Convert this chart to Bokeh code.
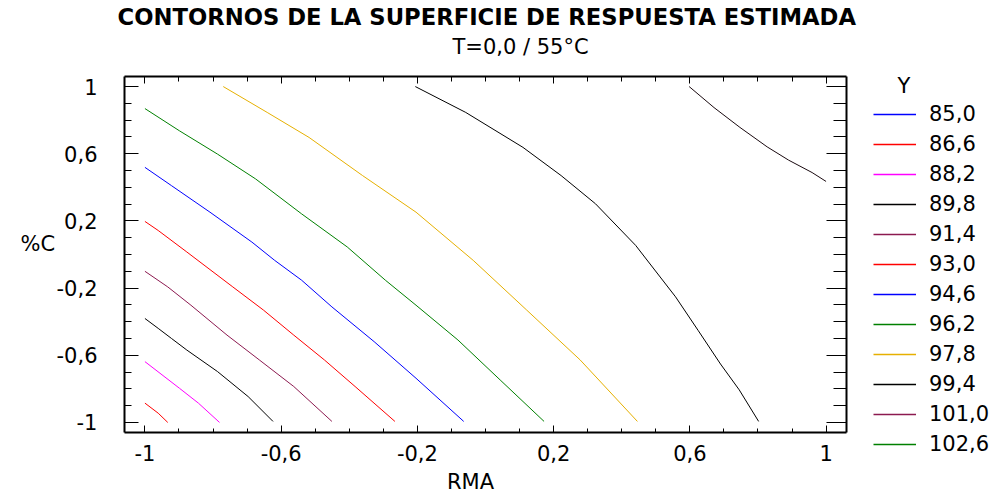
from bokeh.plotting import figure
from bokeh.models import (LinearAxis, FixedTicker, CustomJSTickFormatter,
                          Legend, LegendItem, Range1d, Label)
from bokeh.embed import file_html
from bokeh.resources import INLINE

# ---------------- data ----------------
level_labels = ["85,0", "86,6", "88,2", "89,8", "91,4", "93,0",
                "94,6", "96,2", "97,8", "99,4", "101,0", "102,6"]
legend_colors = ["#0000FF", "#FF0000", "#FF00FF", "#000000", "#8C1A50", "#FF0000",
                 "#0000FF", "#008000", "#E6B000", "#000000", "#8C1A50", "#008000"]
line_colors = ["#0000FF", "#FF0000", "#FF00FF", "#000000", "#8C1A50", "#FF0000",
               "#0000FF", "#008000", "#E6B000", "#000000", "#1A0A10", "#008000"]

NAN = float("nan")
c85_0_x = [NAN, NAN]          # level not present in the plotted region
c85_0_y = [NAN, NAN]
c86_6_x = [-1.0, -0.961, -0.933]
c86_6_y = [-0.885, -0.945, -1.0]
c88_2_x = [-1.0, -0.899, -0.843, -0.781]
c88_2_y = [-0.638, -0.796, -0.885, -1.0]
c89_8_x = [-1.0, -0.961, -0.922, -0.877, -0.787, -0.697, -0.624]
c89_8_y = [-0.381, -0.440, -0.500, -0.569, -0.697, -0.846, -0.994]
c91_4_x = [-1.0, -0.933, -0.865, -0.759, -0.664, -0.563, -0.451]
c91_4_y = [-0.100, -0.193, -0.302, -0.480, -0.628, -0.786, -0.994]
c93_0_x = [-1.0, -0.961, -0.877, -0.742, -0.652, -0.563, -0.473, -0.383, -0.266]
c93_0_y = [0.197, 0.143, 0.015, -0.193, -0.331, -0.480, -0.628, -0.786, -0.994]
c94_6_x = [-1.0, -0.922, -0.809, -0.686, -0.619, -0.540, -0.451, -0.327, -0.204, -0.064]
c94_6_y = [0.519, 0.410, 0.252, 0.074, -0.035, -0.153, -0.312, -0.519, -0.737, -0.994]
c96_2_x = [-1.0, -0.899, -0.787, -0.675, -0.540, -0.406, -0.294, -0.204, -0.081, 0.043, 0.172]
c96_2_y = [0.869, 0.737, 0.598, 0.450, 0.242, 0.045, -0.153, -0.302, -0.509, -0.747, -0.994]
c97_8_x = [-0.770, -0.641, -0.518, -0.361, -0.204, -0.036, 0.121, 0.278, 0.446]
c97_8_y = [1.0, 0.846, 0.697, 0.470, 0.252, -0.035, -0.331, -0.628, -0.994]
c99_4_x = [-0.206, -0.058, 0.110, 0.222, 0.323, 0.441, 0.558, 0.625, 0.690, 0.745, 0.802]
c99_4_y = [1.0, 0.846, 0.638, 0.470, 0.302, 0.054, -0.252, -0.454, -0.652, -0.806, -0.994]
c101_0_x = [0.598, 0.671, 0.747, 0.827, 0.890, 0.959, 1.0]
c101_0_y = [1.0, 0.875, 0.757, 0.641, 0.562, 0.488, 0.435]
c102_6_x = [NAN, NAN]         # level not present in the plotted region
c102_6_y = [NAN, NAN]

contour_x = [c85_0_x, c86_6_x, c88_2_x, c89_8_x, c91_4_x, c93_0_x,
             c94_6_x, c96_2_x, c97_8_x, c99_4_x, c101_0_x, c102_6_x]
contour_y = [c85_0_y, c86_6_y, c88_2_y, c89_8_y, c91_4_y, c93_0_y,
             c94_6_y, c96_2_y, c97_8_y, c99_4_y, c101_0_y, c102_6_y]

major_ticks = [-1, -0.6, -0.2, 0.2, 0.6, 1]
minor_ticks = [round(-1 + 0.1 * i, 1) for i in range(21)]

title_text = "CONTORNOS DE LA SUPERFICIE DE RESPUESTA ESTIMADA"
subtitle_text = "T=0,0 / 55°C"
x_label = "RMA"
y_label = "%C"
legend_title = "Y"

FONT = "DejaVu Sans"

# box of the contour plot, in data units
LO, HI = -1.06, 1.06

# ---------------- figure ----------------
# The frame spans the whole canvas; the plot box is drawn by axes with
# fixed locations and bounds, so every text can sit inside the frame.
W, H = 1002, 501
PX_X = 722 / (HI - LO)       # pixels per x unit
PX_Y = 356 / (HI - LO)       # pixels per y unit
X0 = LO - 124 / PX_X
Y1 = HI + 76 / PX_Y

p = figure(width=W, height=H,
           x_range=Range1d(X0, X0 + W / PX_X), y_range=Range1d(Y1 - H / PX_Y, Y1),
           output_backend="svg", toolbar_location=None,
           min_border_left=0, min_border_right=0,
           min_border_top=0, min_border_bottom=0,
           background_fill_color="white", border_fill_color="white",
           outline_line_color=None)
p.title.visible = False
p.xgrid.visible = False
p.ygrid.visible = False

fmt = CustomJSTickFormatter(code="""
const r = Math.round(tick*10)/10;
if (Math.abs(r - Math.round(r)) < 1e-9) return Math.round(r).toString();
return r.toFixed(1).replace('.', ',');
""")
blank_fmt = CustomJSTickFormatter(code="return '';")


def style_axis(ax, loc, major_in, minor_in, labels=True):
    ax.fixed_location = loc
    ax.ticker = FixedTicker(ticks=major_ticks, minor_ticks=minor_ticks)
    ax.bounds = (LO, HI)
    ax.axis_line_color = "black"
    ax.axis_line_width = 2
    ax.major_tick_in = major_in
    ax.major_tick_out = 0
    ax.minor_tick_in = minor_in
    ax.minor_tick_out = 0
    ax.major_tick_line_color = "black"
    ax.minor_tick_line_color = "black"
    ax.major_tick_line_width = 1
    ax.minor_tick_line_width = 1
    if labels:
        ax.formatter = fmt
        ax.major_label_text_font = FONT
        ax.major_label_text_font_size = "21px"
        ax.major_label_text_color = "black"
    else:
        ax.formatter = blank_fmt
        ax.major_label_standoff = 0


xb = p.xaxis[0]
style_axis(xb, LO, 7, 4)
xb.major_label_standoff = 12

yl = p.yaxis[0]
style_axis(yl, LO, 14, 7)
yl.major_label_standoff = 27

xt = LinearAxis()
style_axis(xt, HI, 7, 5, labels=False)
p.add_layout(xt, "above")
yr = LinearAxis()
style_axis(yr, HI, 20, 13, labels=False)
p.add_layout(yr, "right")

# ---------------- contour lines + legend ----------------
items = []
for lab, lcol, gcol, xs, ys in zip(level_labels, line_colors, legend_colors,
                                   contour_x, contour_y):
    p.line(x=xs, y=ys, line_color=lcol, line_width=1)
    proxy = p.line(x=[NAN, NAN], y=[NAN, NAN], line_color=gcol, line_width=1.5)
    items.append(LegendItem(label=lab, renderers=[proxy]))

legend = Legend(items=items, location=(873, 44), orientation="vertical",
                glyph_width=43, glyph_height=26, label_height=26, spacing=4,
                padding=0, margin=0, label_standoff=13,
                label_text_font=FONT, label_text_font_size="21px",
                label_text_color="black",
                border_line_color=None, background_fill_alpha=0)
p.add_layout(legend)


# ---------------- texts ----------------
def X(px):
    return X0 + px / PX_X


def Y(py):
    return Y1 - py / PX_Y


def add_label(text, px, py, size, align="left", bold=False):
    p.add_layout(Label(x=X(px), y=Y(py), text=text, text_align=align,
                       text_baseline="alphabetic", text_font=FONT,
                       text_font_size=size, text_color="black",
                       text_font_style="bold" if bold else "normal"))


add_label(title_text, 117, 16, "22.7px", bold=True)
add_label(subtitle_text, 452, 46, "21px")
add_label(y_label, 20, 243, "21px")
add_label(x_label, 470, 481, "21px", align="center")
add_label(legend_title, 897, 85, "21px")

open("out.html", "w").write(file_html(p, INLINE))
